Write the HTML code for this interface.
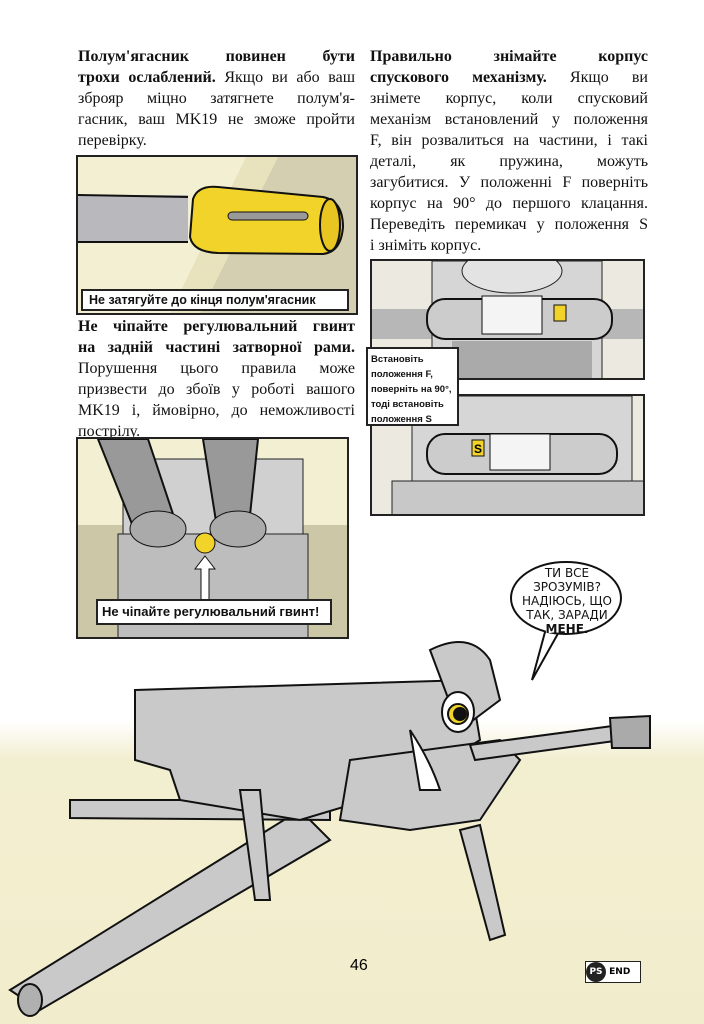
<!DOCTYPE html>
<html><head><meta charset="utf-8"><style>
body{margin:0;width:704px;height:1024px;position:relative;overflow:hidden;background:#fff;font-family:"Liberation Serif",serif;}
.col{position:absolute;font-size:16px;line-height:21px;color:#111;}
.col div{text-align:justify;text-align-last:justify;white-space:nowrap;}
.col div.l{text-align-last:left;}
.p{position:absolute;border:2px solid #222;box-sizing:border-box;overflow:hidden;}
.cap{position:absolute;background:#fff;border:2px solid #222;font-family:"Liberation Sans",sans-serif;font-weight:bold;color:#111;box-sizing:border-box;white-space:nowrap;}
</style></head><body>
<div style="position:absolute;left:0;top:720px;width:704px;height:304px;background:linear-gradient(#fff 0px,#f2eed0 40px,#f1edcc 100%);"></div>

<div class="col" style="left:78px;top:46px;width:277px;">
<div><b>Полум'ягасник повинен бути</b></div>
<div><b>трохи ослаблений.</b> Якщо ви або ваш</div>
<div>зброяр міцно затягнете полум'я-</div>
<div>гасник, ваш MK19 не зможе пройти</div>
<div class="l">перевірку.</div>
</div>
<div class="col" style="left:78px;top:316px;width:277px;">
<div><b>Не чіпайте регулювальний гвинт</b></div>
<div><b>на задній частині затворної рами.</b></div>
<div>Порушення цього правила може</div>
<div>призвести до збоїв у роботі вашого</div>
<div>MK19 і, ймовірно, до неможливості</div>
<div class="l">пострілу.</div>
</div>
<div class="col" style="left:370px;top:46px;width:278px;">
<div><b>Правильно знімайте корпус</b></div>
<div><b>спускового механізму.</b> Якщо ви</div>
<div>знімете корпус, коли спусковий</div>
<div>механізм встановлений у положення</div>
<div>F, він розвалиться на частини, і такі</div>
<div>деталі, як пружина, можуть</div>
<div>загубитися. У положенні F поверніть</div>
<div>корпус на 90° до першого клацання.</div>
<div>Переведіть перемикач у положення S</div>
<div class="l">і зніміть корпус.</div>
</div>

<!-- panel 1 -->
<div class="p" style="left:76px;top:155px;width:282px;height:160px;background:#f3efd3;">
<svg width="282" height="160" style="position:absolute;left:0;top:0">
<polygon points="168,0 200,0 120,160 90,160" fill="#e9e3bd"/>
<polygon points="200,0 282,0 282,160 120,160" fill="#d3cfb0"/>
<rect x="0" y="38" width="110" height="48" fill="#b9b9bd"/>
<line x1="0" y1="38" x2="110" y2="40" stroke="#111" stroke-width="2"/>
<line x1="0" y1="85" x2="110" y2="85" stroke="#111" stroke-width="2"/>
<path d="M115,42 Q120,28 140,30 L245,40 Q265,44 265,70 Q263,95 245,97 L140,96 Q115,95 112,80 Z" fill="#f2d32a" stroke="#111" stroke-width="2"/>
<rect x="150" y="55" width="80" height="8" rx="4" fill="#999" stroke="#111"/>
<ellipse cx="252" cy="68" rx="10" ry="26" fill="#e8c520" stroke="#111" stroke-width="2"/>
</svg>
<div class="cap" style="left:3px;top:132px;width:268px;height:22px;font-size:12.5px;line-height:18px;padding-left:6px;">Не затягуйте до кінця полум'ягасник</div>
</div>

<!-- panel 2 -->
<div class="p" style="left:76px;top:437px;width:273px;height:202px;background:#f3efd3;">
<svg width="273" height="202" style="position:absolute;left:0;top:0">
<rect x="0" y="86" width="273" height="116" fill="#cbc7a7"/>
<rect x="45" y="20" width="180" height="182" fill="#d0d0d0" stroke="#222"/>
<rect x="40" y="95" width="190" height="107" fill="#bdbdbd" stroke="#222"/>
<path d="M20,0 L70,0 L100,90 L60,100 Z" fill="#999" stroke="#111" stroke-width="2"/>
<path d="M125,0 L180,0 L170,95 L140,95 Z" fill="#999" stroke="#111" stroke-width="2"/>
<ellipse cx="80" cy="90" rx="28" ry="18" fill="#aaa" stroke="#111"/>
<ellipse cx="160" cy="90" rx="28" ry="18" fill="#aaa" stroke="#111"/>
<circle cx="127" cy="104" r="10" fill="#f2d32a" stroke="#111"/>
<polygon points="127,117 137,130 131,130 131,165 123,165 123,130 117,130" fill="#fff" stroke="#111"/>
</svg>
<div class="cap" style="left:18px;top:160px;width:236px;height:26px;font-size:13px;line-height:22px;padding-left:4px;">Не чіпайте регулювальний гвинт!</div>
</div>

<!-- panel 3 -->
<div class="p" style="left:370px;top:259px;width:275px;height:121px;background:#eceae0;">
<svg width="275" height="121" style="position:absolute;left:0;top:0">
<rect x="0" y="48" width="275" height="30" fill="#b7b7b7"/>
<rect x="60" y="0" width="170" height="121" fill="#d6d6d6" stroke="#222"/>
<ellipse cx="140" cy="10" rx="50" ry="22" fill="#e3e3e3" stroke="#222"/>
<rect x="55" y="38" width="185" height="40" rx="18" fill="#ccc" stroke="#111" stroke-width="2"/>
<rect x="110" y="35" width="60" height="38" fill="#f4f4f4" stroke="#111"/>
<rect x="182" y="44" width="12" height="16" fill="#f2d32a" stroke="#111"/>
<rect x="80" y="80" width="140" height="41" fill="#aaa"/>
</svg>
</div>
<!-- panel 4 -->
<div class="p" style="left:370px;top:394px;width:275px;height:122px;background:#eceae0;">
<svg width="275" height="122" style="position:absolute;left:0;top:0">
<rect x="40" y="0" width="220" height="122" fill="#d6d6d6" stroke="#222"/>
<rect x="20" y="85" width="255" height="37" fill="#c8c8c8" stroke="#222"/>
<rect x="55" y="38" width="190" height="40" rx="18" fill="#ccc" stroke="#111" stroke-width="2"/>
<rect x="118" y="38" width="60" height="36" fill="#f4f4f4" stroke="#111"/>
<rect x="100" y="44" width="12" height="16" fill="#f2d32a" stroke="#111"/>
<text x="102" y="57" font-size="12" font-weight="bold" font-family="Liberation Sans">S</text>
</svg>
</div>
<div class="cap" style="left:366px;top:347px;width:93px;height:79px;font-size:9.5px;line-height:15px;padding:3px 0 0 3px;">Встановіть<br>положення F,<br>поверніть на 90°,<br>тоді встановіть<br>положення S</div>

<!-- bubble & gun -->
<svg width="704" height="1024" style="position:absolute;left:0;top:0">
<path d="M545,632 L532,680 L560,630" fill="#fff" stroke="#111" stroke-width="2"/>
<ellipse cx="566" cy="598" rx="55" ry="36" fill="#fff" stroke="#111" stroke-width="2"/>
<path d="M546,632 L560,630" stroke="#fff" stroke-width="3"/>
<g stroke="#111" stroke-width="2" fill="#c9c9c9">
<polygon points="10,990 300,810 330,840 40,1010"/>
<ellipse cx="30" cy="1000" rx="12" ry="16" fill="#b0b0b0"/>
<polygon points="70,800 330,800 330,820 70,818"/>
<polygon points="460,830 480,825 505,935 490,940"/>
<polygon points="135,690 470,680 480,740 400,790 300,820 180,800 170,770 135,760"/>
<polygon points="350,760 500,740 520,760 480,820 410,830 340,820"/>
<polygon points="470,745 620,725 622,740 475,760"/>
<polygon points="610,718 650,716 650,748 612,748" fill="#aaa"/>
<path d="M430,650 Q470,630 490,660 L500,700 L460,730 Z"/>
<ellipse cx="458" cy="712" rx="16" ry="20" fill="#fff"/>
<circle cx="458" cy="714" r="10" fill="#f2d32a"/>
<circle cx="460" cy="714" r="6" fill="#111"/>
<path d="M410,730 Q430,760 440,790 L420,790 Z" fill="#fff"/>
<polygon points="240,790 260,790 270,900 255,900"/>
</g>
</svg>
<div style="position:absolute;left:520px;top:566px;width:94px;text-align:center;font-family:'DejaVu Sans',sans-serif;font-size:12px;line-height:14px;color:#111;">ТИ ВСЕ<br>ЗРОЗУМІВ?<br>НАДІЮСЬ, ЩО<br>ТАК, ЗАРАДИ<br><b>МЕНЕ.</b></div>
<div style="position:absolute;left:350px;top:957px;font-family:'Liberation Sans',sans-serif;font-size:16px;">46</div>
<div style="position:absolute;left:585px;top:961px;width:54px;height:20px;border:1px solid #222;background:#fff;font-family:'DejaVu Sans',sans-serif;font-size:9px;font-weight:bold;line-height:20px;"><span style="display:inline-block;width:20px;height:20px;border-radius:50%;background:#222;color:#fff;text-align:center;">PS</span> END</div>
</body></html>
